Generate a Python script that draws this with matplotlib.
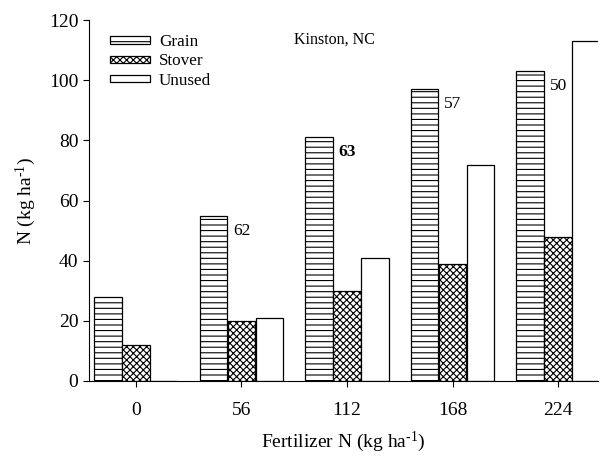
import matplotlib
matplotlib.use("Agg")
import numpy as np
import matplotlib.pyplot as plt

plt.rcParams["font.family"] = ["Liberation Serif", "DejaVu Serif"]
plt.rcParams["mathtext.fontset"] = "custom"
plt.rcParams["mathtext.rm"] = "Liberation Serif"
plt.rcParams["mathtext.default"] = "regular"
plt.rcParams["hatch.linewidth"] = 0.8

# data
rates = ["0", "56", "112", "168", "224"]
grain = [28, 55, 81, 97, 103]
stover = [12, 20, 30, 39, 48]
unused = [0, 21, 41, 72, 113]
efficiency = ["", "62", "63", "57", "50"]
bold_label = "63"

x = np.arange(len(rates))
w = 0.26
gap = 0.005

fig = plt.figure(figsize=(6.0, 4.59), dpi=100)
ax = fig.add_axes([0.148, 0.170, 0.849, 0.786])

ax.bar(x - w - gap, grain, w, color="white", edgecolor="black", hatch="---",
       linewidth=0.9, label="Grain")
ax.bar(x, stover, w, color="white", edgecolor="black", hatch="xxxxx",
       linewidth=0.9, label="Stover")
ax.bar(x + w + gap, unused, w, color="white", edgecolor="black",
       linewidth=0.9, label="Unused")

for xi, g, lab in zip(x, grain, efficiency):
    if not lab:
        continue
    ax.text(xi - w / 2 + 0.05, g - 5, lab, ha="left", va="center", fontsize=12.5,
            fontweight="bold" if lab == bold_label else "normal")

ax.text(1.88, 113.4, "Kinston, NC", ha="center", va="center", fontsize=11.5)

ax.set_xlim(-0.445, 4.38)
ax.set_ylim(0, 120)
ax.set_yticks(np.arange(0, 121, 20))
ax.set_xticks(x)
ax.set_xticklabels(rates)
ax.tick_params(axis="both", labelsize=14, direction="out", length=4, width=0.8)
ax.tick_params(axis="x", pad=11)

for side in ["top", "right"]:
    ax.spines[side].set_visible(False)
ax.spines["left"].set_linewidth(0.8)
ax.spines["bottom"].set_linewidth(0.8)

ax.set_xlabel(r"Fertilizer N (kg ha$^{\text{-1}}$)", fontsize=14, labelpad=8)
ax.set_ylabel(r"N (kg ha$^{\text{-1}}$)", fontsize=14, labelpad=8)

ax.legend(loc="upper left", bbox_to_anchor=(0.022, 0.99), frameon=False,
          fontsize=12.3, handlelength=2.35, handleheight=0.3, labelspacing=0.2,
          handletextpad=0.5, borderaxespad=0.2)

fig.savefig("out.png", dpi=100)
